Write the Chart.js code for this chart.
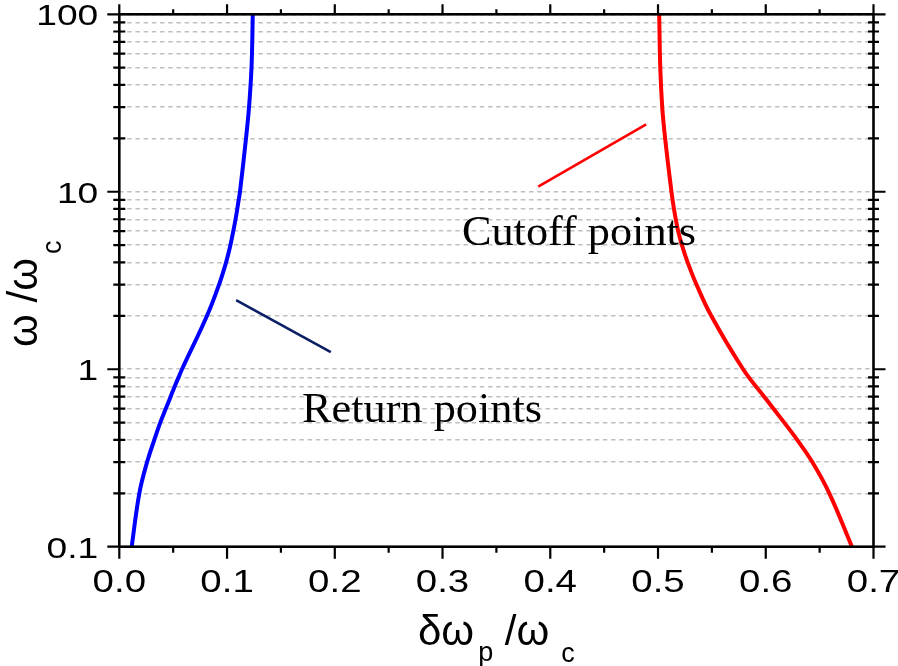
<!DOCTYPE html>
<html>
<head>
<meta charset="utf-8">
<script src="https://cdn.jsdelivr.net/npm/chart.js@4.4.1/dist/chart.umd.min.js"></script>
<style>
  html, body { margin: 0; padding: 0; background: #fff; }
  #wrap { width: 898px; height: 666px; }
</style>
</head>
<body>
<div id="wrap"><canvas id="chart" width="898" height="666"></canvas></div>
<script>
// return points (blue)
const blueY = [0.1, 0.2, 0.3, 0.4, 0.5, 0.6, 0.7, 0.8, 0.9, 1, 2, 3, 4, 5, 6, 7, 8, 9, 10, 20, 30, 50, 100];
const blueX = [0.0115, 0.0186, 0.0258, 0.0325, 0.0380, 0.0432, 0.0476, 0.0514, 0.0550, 0.0582, 0.0814, 0.0926, 0.0991, 0.1031, 0.1058, 0.1079, 0.1095, 0.1108, 0.1120, 0.1176, 0.1204, 0.1227, 0.1239];

// cutoff points (red)
const redY = [0.1, 0.2, 0.3, 0.4, 0.5, 0.7, 1, 2, 3, 4, 5, 6, 8, 10, 20, 30, 50, 100];
const redX = [0.6800, 0.6590, 0.6432, 0.6292, 0.6172, 0.5986, 0.5790, 0.5494, 0.5357, 0.5275, 0.5222, 0.5187, 0.5148, 0.5125, 0.5066, 0.5039, 0.5021, 0.5011];

// leader lines to the labels
const returnLeadX = [0.1084, 0.1963];
const returnLeadY = [2.45, 1.25];
const cutoffLeadX = [0.3888, 0.489];
const cutoffLeadY = [10.7, 24.0];

// label text and anchor (left, baseline) in data units
const noteText = ['Return points', 'Cutoff points'];
const noteX = [0.1696, 0.318];
const noteY = [0.505, 5.01];

// axis ticks
const xMajor = [0, 0.1, 0.2, 0.3, 0.4, 0.5, 0.6, 0.7];
const xMinor = [0.05, 0.15, 0.25, 0.35, 0.45, 0.55, 0.65];
const yMajor = [0.1, 1, 10, 100];
const yMinor = [0.2, 0.3, 0.4, 0.5, 0.6, 0.7, 0.8, 0.9, 2, 3, 4, 5, 6, 7, 8, 9, 20, 30, 40, 50, 60, 70, 80, 90];

function pts(xs, ys) {
  return xs.map((v, i) => ({ x: v, y: ys[i] }));
}

// text drawn with a horizontal stretch, like the original figure
function wideText(ctx, text, px, py, sx, align) {
  ctx.save();
  ctx.setTransform(sx, 0, 0, 1, px, py);
  ctx.textAlign = align;
  ctx.fillText(text, 0, 0);
  ctx.restore();
}

// draws frame, tick marks, tick labels, axis titles and notes
const decor = {
  id: 'decor',
  afterDatasetsDraw(chart) {
    const { ctx, scales: { x, y } } = chart;
    ctx.save();
    ctx.fillStyle = '#000';
    ctx.font = '43px "Liberation Serif"';
    ctx.textBaseline = 'alphabetic';
    noteText.forEach((t, i) => {
      wideText(ctx, t, x.getPixelForValue(noteX[i]), y.getPixelForValue(noteY[i]), 1.03, 'left');
    });
    ctx.restore();
  },
  afterDraw(chart) {
    const { ctx, chartArea: a, scales: { x, y } } = chart;
    ctx.save();
    ctx.strokeStyle = '#000';
    ctx.lineWidth = 2.6;
    ctx.strokeRect(a.left, a.top, a.right - a.left, a.bottom - a.top);

    ctx.lineWidth = 2.2;
    ctx.beginPath();
    xMajor.forEach(v => {
      const px = x.getPixelForValue(v);
      ctx.moveTo(px, a.bottom); ctx.lineTo(px, a.bottom + 12);
      ctx.moveTo(px, a.top); ctx.lineTo(px, a.top - 10);
    });
    xMinor.forEach(v => {
      const px = x.getPixelForValue(v);
      ctx.moveTo(px, a.bottom); ctx.lineTo(px, a.bottom + 6);
      ctx.moveTo(px, a.top); ctx.lineTo(px, a.top - 5);
    });
    yMajor.forEach(v => {
      const py = y.getPixelForValue(v);
      ctx.moveTo(a.left - 12, py); ctx.lineTo(a.left, py);
      ctx.moveTo(a.right, py); ctx.lineTo(a.right + 12, py);
    });
    yMinor.forEach(v => {
      const py = y.getPixelForValue(v);
      ctx.moveTo(a.left - 6, py); ctx.lineTo(a.left + 6, py);
      ctx.moveTo(a.right - 5.5, py); ctx.lineTo(a.right + 5.5, py);
    });
    ctx.stroke();

    // tick labels
    ctx.fillStyle = '#000';
    ctx.textBaseline = 'alphabetic';
    ctx.font = '31px "Liberation Sans"';
    xMajor.forEach(v => {
      wideText(ctx, v.toFixed(1), x.getPixelForValue(v), a.bottom + 45.5, 1.24, 'center');
    });
    ctx.font = '30px "Liberation Sans"';
    yMajor.forEach(v => {
      wideText(ctx, String(v), a.left - 21, y.getPixelForValue(v) + 10.8, 1.24, 'right');
    });

    // x title: δω_p /ω_c
    ctx.textAlign = 'left';
    const big = '42px "Liberation Sans"';
    const small = '27px "Liberation Sans"';
    const xParts = [['δω', big, 0, 0], ['p', small, 16, 4], [' /ω', big, 0, 0], ['c', small, 17, 12]];
    let w = 0;
    xParts.forEach(p => { ctx.font = p[1]; w += ctx.measureText(p[0]).width + p[3]; });
    let cx = (a.left + a.right) / 2 - w / 2;
    xParts.forEach(p => {
      ctx.font = p[1];
      ctx.fillText(p[0], cx + p[3], 645 + p[2]);
      cx += ctx.measureText(p[0]).width + p[3];
    });

    // y title: ω /ω_c, rotated
    ctx.translate(37, 347);
    ctx.rotate(-Math.PI / 2);
    const yParts = [['ω /ω', big, 0, 0], ['c', small, 24, 4]];
    let cy = 0;
    yParts.forEach(p => {
      ctx.font = p[1];
      ctx.fillText(p[0], cy + p[3], p[2]);
      cy += ctx.measureText(p[0]).width + p[3];
    });
    ctx.restore();
  }
};

const ctx = document.getElementById('chart').getContext('2d');
new Chart(ctx, {
  type: 'line',
  data: {
    datasets: [
      { data: pts(blueX, blueY), borderColor: '#0000ff', borderWidth: 4, tension: 0.4 },
      { data: pts(redX, redY), borderColor: '#ff0000', borderWidth: 4, tension: 0.4 },
      { data: pts(returnLeadX, returnLeadY), borderColor: '#0a1f66', borderWidth: 2.6, tension: 0 },
      { data: pts(cutoffLeadX, cutoffLeadY), borderColor: '#ff0000', borderWidth: 2.6, tension: 0 }
    ]
  },
  options: {
    responsive: false,
    animation: false,
    devicePixelRatio: 1,
    layout: { padding: { left: 0, right: 24.5, top: 14.3, bottom: 0 } },
    elements: { point: { radius: 0 } },
    plugins: { legend: { display: false }, tooltip: { enabled: false } },
    scales: {
      x: {
        type: 'linear',
        min: 0,
        max: 0.7,
        afterBuildTicks: (s) => { s.ticks = xMajor.map(v => ({ value: v })); },
        afterFit: (s) => { s.height = 666 - 546.7; },
        grid: { display: false, drawTicks: false },
        border: { display: false },
        ticks: { display: false }
      },
      y: {
        type: 'logarithmic',
        min: 0.1,
        max: 100,
        afterBuildTicks: (s) => {
          s.ticks = yMajor.concat(yMinor).sort((p, q) => p - q).map(v => ({ value: v }));
        },
        afterFit: (s) => { s.width = 119.3; },
        grid: { color: '#c0c0c0', lineWidth: 1.5, drawTicks: false },
        border: { display: false, dash: [4.5, 3.7] },
        ticks: { display: false }
      }
    }
  },
  plugins: [decor]
});
</script>
</body>
</html>
